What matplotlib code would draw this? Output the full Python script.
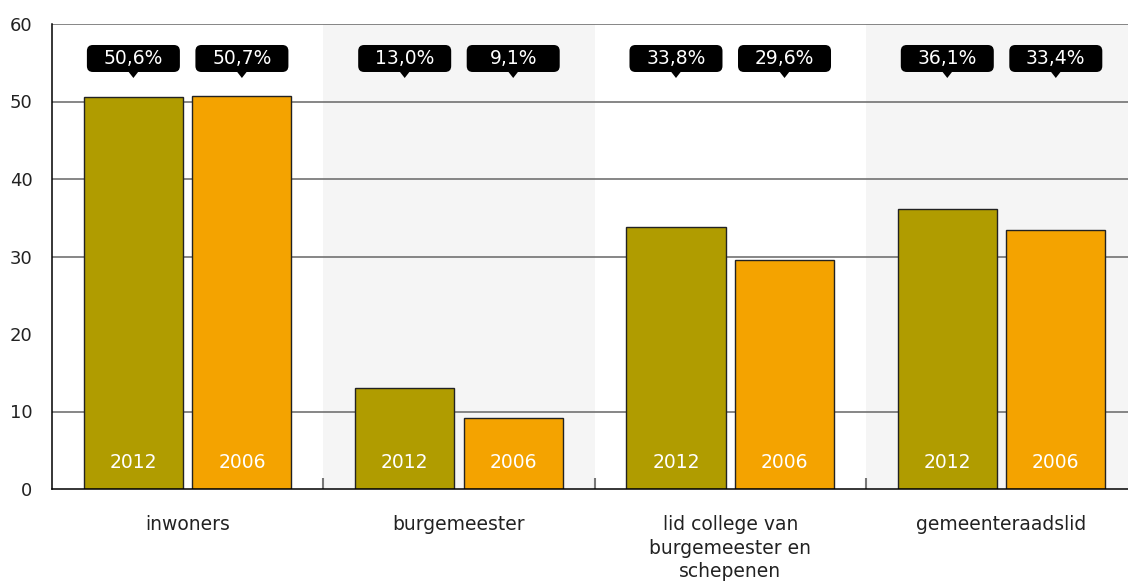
import matplotlib.pyplot as plt
import numpy as np
from matplotlib.patches import FancyBboxPatch, Polygon

categories = ["inwoners", "burgemeester", "lid college van\nburgemeester en\nschepenen", "gemeenteraadslid"]
years = ["2012", "2006"]
values_2012 = [50.6, 13.0, 33.8, 36.1]
values_2006 = [50.7, 9.1, 29.6, 33.4]
labels_2012 = ["50,6%", "13,0%", "33,8%", "36,1%"]
labels_2006 = ["50,7%", "9,1%", "29,6%", "33,4%"]
grid_levels = [10, 30, 40, 50, 60]

COLOR_2012 = "#b09c00"
COLOR_2006 = "#f4a300"

plt.rcParams["font.family"] = "DejaVu Sans"

fig = plt.figure(figsize=(11.28, 5.86), dpi=100)
ax = fig.add_axes([52 / 1128, 97 / 586, 1076 / 1128, 465 / 586])

n = len(categories)
band_px = 271.3
centers = np.arange(n) + 0.5
bar_w = 0.365
offset = 0.2

# last band is cut off by the figure edge
ax.set_xlim(0, 1076 / band_px)
ax.set_ylim(0, 60)

for i in range(n):
    if i % 2 == 1:
        ax.axvspan(i, i + 1, color="#f5f5f5", zorder=0, lw=0)

for g in grid_levels:
    ax.axhline(g, color="#666666", lw=1.1, zorder=1)

series = [(values_2012, labels_2012, -offset, COLOR_2012, years[0]),
          (values_2006, labels_2006, offset, COLOR_2006, years[1])]

# pixel -> data conversions
px_x = 1 / band_px
px_y = 60 / 465

for vals, labs, off, col, yr in series:
    xs = centers + off
    ax.bar(xs, vals, width=bar_w, color=col, edgecolor="#222222", lw=1, zorder=2)
    for x, v, lab in zip(xs, vals, labs):
        ax.text(x, 26 * px_y, yr, ha="center", va="center", color="white",
                fontsize=13.5, zorder=3)
        # callout box with pointer
        bw, bh = 93 * px_x, 27 * px_y
        by = 55.55 - bh / 2
        box = FancyBboxPatch((x - bw / 2, by), bw, bh,
                             boxstyle="round,pad=0,rounding_size=%f" % (6 * px_x),
                             mutation_aspect=px_y / px_x,
                             fc="black", ec="black", lw=0, zorder=4)
        ax.add_patch(box)
        tri = Polygon([(x - 5 * px_x, by + 0.05), (x + 5 * px_x, by + 0.05), (x, by - 6 * px_y)],
                      closed=True, fc="black", ec="none", zorder=4)
        ax.add_patch(tri)
        ax.text(x, by + bh / 2, lab, ha="center", va="center", color="white",
                fontsize=13.5, zorder=5)

for s in ["top", "right"]:
    ax.spines[s].set_visible(False)
ax.spines["left"].set_color("black")
ax.spines["bottom"].set_color("black")
ax.spines["left"].set_linewidth(1.1)
ax.spines["bottom"].set_linewidth(1.1)

ax.set_yticks([0, 10, 20, 30, 40, 50, 60])
ax.tick_params(axis="y", length=0, pad=14, labelsize=13, labelcolor="#222222")

ax.set_xticks(np.arange(1, n))
ax.set_xticklabels([])
ax.tick_params(axis="x", which="major", direction="in", length=8, width=1.5, color="#777777")
ax.set_xticks(centers, minor=True)
ax.set_xticklabels(categories, minor=True, fontsize=13.5, color="#222222", linespacing=1.3)
ax.tick_params(axis="x", which="minor", length=0, pad=19)

fig.savefig("out.png", dpi=100)
